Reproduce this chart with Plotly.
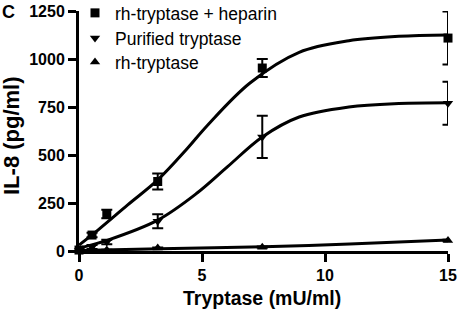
import plotly.graph_objects as go

x_conc = [0, 0.53, 1.13, 3.2, 7.45, 15]
hep_y = [5, 83, 193, 362, 953, 1109]
hep_err = [5, 12, 22, 42, 47, 138]
pur_y = [3, 21, 47, 155, 594, 770]
pur_err = [3, 10, 12, 37, 110, 112]
rh_y = [2, 3, 5, 15, 20, 55]
rh_err = [1, 2, 2, 3, 3, 4]

# Fitted curves
hep_cx = [0, 0.77, 1.98, 3.2, 4.41, 5.19, 6.95, 8.95, 10.97, 13, 15]
hep_cy = [31, 109, 240, 370, 535, 650, 875, 1035, 1095, 1118, 1125]
pur_cx = [0, 1.17, 3.2, 4.8, 6.03, 7.45, 8.95, 10.97, 13, 15]
pur_cy = [15, 57, 161, 302, 438, 594, 698, 750, 768, 772]
rh_cx = [0, 3.3, 7.5, 11, 15]
rh_cy = [2, 12, 22, 36, 57]

names = ["rh-tryptase + heparin", "Purified tryptase", "rh-tryptase"]
symbols = ["square", "triangle-down", "triangle-up"]

FONT = "Liberation Sans, Arial"
fig = go.Figure()
legends = ["legend", "legend2", "legend3"]
series = [(hep_y, hep_err, hep_cx, hep_cy), (pur_y, pur_err, pur_cx, pur_cy), (rh_y, rh_err, rh_cx, rh_cy)]
for i, (yv, err, cx, cy) in enumerate(series):
    fig.add_trace(go.Scatter(x=cx, y=cy, mode="lines",
                             line=dict(color="black", width=3, shape="spline", smoothing=1.0),
                             showlegend=False, cliponaxis=False))
    fig.add_trace(go.Scatter(x=x_conc, y=yv, mode="markers", name=names[i],
                             marker=dict(symbol=symbols[i], size=9, color="black"),
                             error_y=dict(type="data", array=err, color="black", thickness=2, width=5.5),
                             cliponaxis=False, legend=legends[i]))

W, H = 461, 312
PL, PR, PT, PB = 79, 448, 11, 251          # plot box in pixels
L, T = PL, PT
R, B = W - PR, H - PB
PW, PH = PR - PL, PB - PT

def px2x(px):
    return (px - PL) / PW

def py2y(py):
    return (PB - py) / PH

leg_common = dict(xanchor="left", yanchor="middle",
                  x=px2x(75), bgcolor="rgba(0,0,0,0)",
                  font=dict(family=FONT, size=17.5, color="black"))
axis_common = dict(ticks="outside", ticklen=8, tickwidth=3, tickcolor="black",
                   showline=True, linewidth=3, linecolor="black", showgrid=False, zeroline=False,
                   automargin=False,
                   tickfont=dict(family=FONT, size=16, color="black", weight="bold"))
fig.update_layout(
    template="none",
    width=W, height=H,
    margin=dict(l=L, r=R, t=T, b=B, autoexpand=False),
    plot_bgcolor="white", paper_bgcolor="white",
    legend=dict(y=py2y(13), **leg_common),
    legend2=dict(y=py2y(38), **leg_common),
    legend3=dict(y=py2y(62), **leg_common),
    xaxis=dict(range=[0, 15], tickvals=[0, 5, 10, 15], **axis_common),
    yaxis=dict(range=[0, 1250], tickvals=[0, 250, 500, 750, 1000, 1250], **axis_common),
    annotations=[
        dict(text="C", xref="paper", yref="paper", x=px2x(8), y=py2y(12),
             xanchor="center", yanchor="middle", showarrow=False,
             font=dict(family=FONT, size=18, color="black", weight="bold")),
        dict(text="Tryptase (mU/ml)", xref="paper", yref="paper", x=px2x(262), y=py2y(298),
             xanchor="center", yanchor="middle", showarrow=False,
             font=dict(family=FONT, size=19.5, color="black", weight="bold")),
        dict(text="IL-8 (pg/ml)", xref="paper", yref="paper", x=px2x(11), y=py2y(136),
             xanchor="center", yanchor="middle", showarrow=False, textangle=-90,
             font=dict(family=FONT, size=22, color="black", weight="bold")),
    ],
)
fig.write_html("out.html", config={"displayModeBar": False},
               post_script="document.body.style.margin='0';document.body.style.overflow='hidden';")
